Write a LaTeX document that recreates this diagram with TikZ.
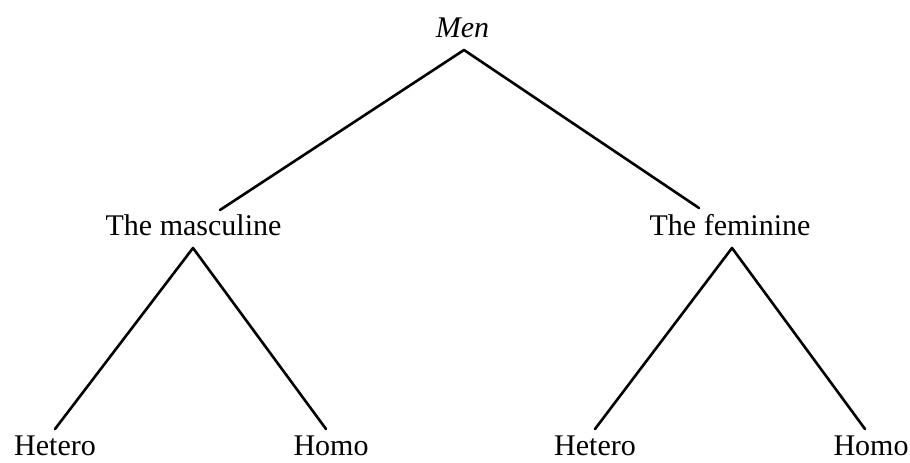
\documentclass[tikz,border=0pt]{standalone}
\usepackage{fontspec}
\setmainfont{Liberation Serif}
\begin{document}
\begin{tikzpicture}[x=1pt,y=-1pt,
  lbl/.style={anchor=base,inner sep=0pt,font=\fontsize{30}{36}\selectfont},
  edge/.style={line width=2.6pt,line cap=round,line join=round}]
\useasboundingbox (0,0) rectangle (910,463);
\node[lbl,font=\fontsize{30}{36}\selectfont\itshape] (men) at (462.5,37) {Men};
\node[lbl] (masc) at (193.5,235) {The masculine};
\node[lbl] (fem) at (730,235) {The feminine};
\node[lbl] (h1) at (55,455) {Hetero};
\node[lbl] (o1) at (331,455) {Homo};
\node[lbl] (h2) at (595,455) {Hetero};
\node[lbl] (o2) at (871,455) {Homo};
\coordinate (men-b) at (464,50);
\coordinate (masc-t) at (220,210);
\coordinate (fem-t) at (699,208);
\coordinate (masc-b) at (193,248);
\coordinate (fem-b) at (732,248);
\coordinate (h1-t) at (55,429);
\coordinate (o1-t) at (326,429);
\coordinate (h2-t) at (595,429);
\coordinate (o2-t) at (865,429);
\draw[edge] (masc-t) -- (men-b) -- (fem-t);
\draw[edge] (h1-t) -- (masc-b) -- (o1-t);
\draw[edge] (h2-t) -- (fem-b) -- (o2-t);
\end{tikzpicture}
\end{document}
